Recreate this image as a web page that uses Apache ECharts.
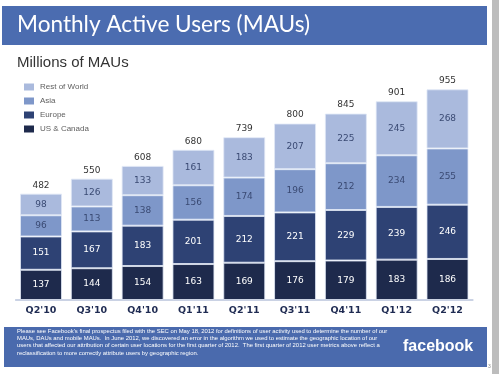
<!DOCTYPE html>
<html><head><meta charset="utf-8">
<script src="https://cdn.jsdelivr.net/npm/echarts@6/dist/echarts.min.js"></script>
<style>html,body{margin:0;padding:0;background:#fff}#c{width:499px;height:374px}</style>
</head><body><div id="c"></div>
<script>
const categories = ["Q2'10","Q3'10","Q4'10","Q1'11","Q2'11","Q3'11","Q4'11","Q1'12","Q2'12"];
const usCanada = [137,144,154,163,169,176,179,183,186];
const europe = [151,167,183,201,212,221,229,239,246];
const asia = [96,113,138,156,174,196,212,234,255];
const restOfWorld = [98,126,133,161,183,207,225,245,268];
const totals = [482,550,608,680,739,800,845,901,955];
const footerLines = [
  "Please see Facebook\u2019s final prospectus filed with the SEC on May 18, 2012 for definitions of user activity used to determine the number of our",
  "MAUs, DAUs and mobile MAUs.  In June 2012, we discovered an error in the algorithm we used to estimate the geographic location of our",
  "users that affected our attribution of certain user locations for the first quarter of 2012.  The first quarter of 2012 user metrics above reflect a",
  "reclassification to more correctly attribute users by geographic region."
];

const chart = echarts.init(document.getElementById('c'), null, {renderer:'canvas'});
const F = "'Liberation Sans', Arial, sans-serif";
const DV = "'DejaVu Sans', Verdana, sans-serif";
function seg(name, data, color, labelColor){
  return {
    name, type:'bar', stack:'mau', data, barWidth:42,
    itemStyle:{color, borderColor:'rgba(225,232,246,0.8)', borderWidth:1},
    label:{show:true, position:'inside', color:labelColor, fontFamily:DV, fontSize:9},
    emphasis:{disabled:true}
  };
}
chart.setOption({
  animation:false,
  textStyle:{fontFamily:F},
  grid:{left:15.6, right:26.1, top:79.4, bottom:74},
  legend:{
    orient:'vertical', left:19, top:77, itemWidth:10, itemHeight:7, itemGap:4,
    icon:'rect', selectedMode:false,
    itemStyle:{borderWidth:0},
    data:['Rest of World','Asia','Europe','US & Canada'],
    textStyle:{fontFamily:F, fontSize:8, color:'#5e5e5e', lineHeight:10, padding:[0,0,0,1]}
  },
  xAxis:{
    type:'category', data:categories,
    axisLine:{lineStyle:{color:'#b9c4dc', width:1.5}},
    axisTick:{show:false},
    axisLabel:{fontFamily:DV, fontWeight:'bold', fontSize:9.5, color:'#1f2b52', margin:6}
  },
  yAxis:{type:'value', min:0, max:1000, show:false, splitLine:{show:false}},
  series:[
    seg('US & Canada', usCanada, '#1e2a4c', '#ffffff'),
    seg('Europe', europe, '#2e4274', '#ffffff'),
    seg('Asia', asia, '#7e97c9', '#3a4a73'),
    seg('Rest of World', restOfWorld, '#aabadd', '#3a4a73'),
    {
      name:'Total', type:'bar', data:totals, barWidth:42, barGap:'-100%', z:0,
      itemStyle:{color:'rgba(0,0,0,0)'},
      label:{show:true, position:'top', distance:4, color:'#333', fontFamily:DV, fontSize:9},
      emphasis:{disabled:true}
    }
  ],
  graphic:[
    {type:'rect', left:2, top:6, shape:{width:485, height:39}, style:{fill:'#4b6cb0'}, z:-1},
    {type:'text', left:17, top:13, style:{text:'Monthly Active Users (MAUs)', fill:'#ffffff', font:"22.6px 'Lato', sans-serif"}},
    {type:'text', left:17, top:55, style:{text:'Millions of MAUs', fill:'#333333', font:"15px 'Liberation Sans', Arial, sans-serif"}},
    {type:'rect', left:4, top:327, shape:{width:483, height:40}, style:{fill:'#4a6aad'}, z:-1},
    {type:'text', left:17, top:327.5, style:{text:footerLines.join('\n'), fill:'#ffffff', font:"5.9px 'Liberation Sans', Arial, sans-serif", lineHeight:7.3}},
    {type:'text', left:403, top:339, style:{text:'facebook', fill:'#ffffff', font:"bold 16px 'Liberation Sans', Arial, sans-serif"}},
    {type:'rect', left:492, top:0, shape:{width:7, height:374}, style:{fill:'#bdbdbd'}},
    {type:'text', left:488, top:364, style:{text:'3', fill:'#888', font:"5px 'Liberation Sans', Arial, sans-serif"}}
  ]
});
</script></body></html>
